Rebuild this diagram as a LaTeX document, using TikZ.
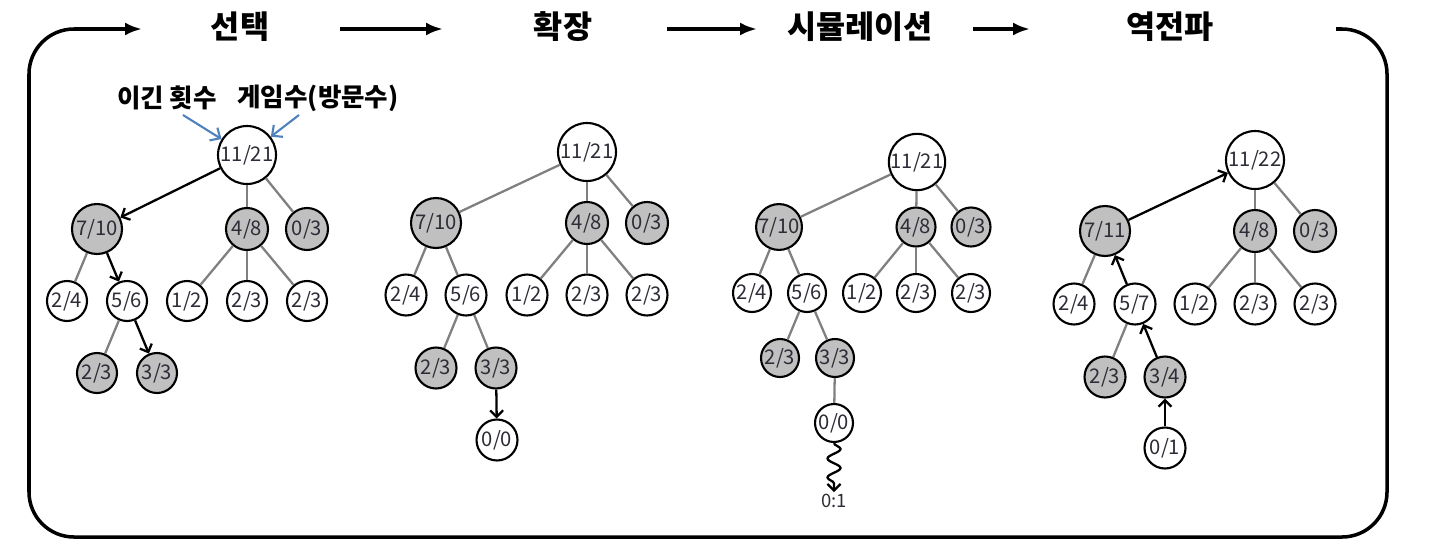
\documentclass[tikz,border=0pt]{standalone}
\usepackage{fontspec}
\setmainfont{Noto Sans CJK KR}
\usepackage{tikz}
\usetikzlibrary{arrows.meta}
\usetikzlibrary{decorations.pathmorphing}
\definecolor{nodegray}{RGB}{192, 192, 192}
\definecolor{edgegray}{RGB}{128, 128, 128}
\definecolor{noteblue}{RGB}{79, 129, 189}
\definecolor{digitink}{RGB}{45, 45, 55}
\tikzset{
  tnode/.style={circle, draw=black, line width=1.2pt, inner sep=0pt, text=digitink, font=\fontsize{11.5}{13}\selectfont},
  wnode/.style={tnode, fill=white, minimum size=#1},
  gnode/.style={tnode, fill=nodegray, minimum size=#1},
  treeline/.style={draw=edgegray, line width=1.3pt},
  walk/.style={draw=black, line width=1.3pt, -{Straight Barb[length=1.3mm, width=2.6mm]}},
  flow/.style={line width=2pt, -{Latex[length=3.4mm, width=2.6mm]}},
  note/.style={draw=noteblue, line width=1.2pt, -{Straight Barb[length=1.6mm, width=3mm]}},
  stagehead/.style={font=\fontsize{18}{21}\selectfont\bfseries, inner sep=0pt},
  notelabel/.style={font=\fontsize{14.5}{17}\selectfont\bfseries, inner sep=0pt},
}

\begin{document}
\begin{tikzpicture}[x=0.02cm, y=-0.02cm]
    \useasboundingbox (0,0) rectangle (1432,548);

    % frame and stage titles
    \draw[flow, rounded corners=0.9cm] (1336,29) -- (1387,29) -- (1387,537) -- (29,537) -- (29,29) -- (142,29);
    \node[stagehead] (selhead) at ( 240,27) {선택};
    \node[stagehead] (exphead) at ( 563,27) {확장};
    \node[stagehead] (simhead) at ( 860,27) {시뮬레이션};
    \node[stagehead] (bphead)  at (1170,27) {역전파};
    \coordinate (flowa1) at (340,29);  \coordinate (flowa2) at (443,29);
    \coordinate (flowb1) at (667,29);  \coordinate (flowb2) at (757,29);
    \coordinate (flowc1) at (973,29);  \coordinate (flowc2) at (1030,29);
    \draw[flow] (flowa1) -- (flowa2);
    \draw[flow] (flowb1) -- (flowb2);
    \draw[flow] (flowc1) -- (flowc2);

    % selection
    \node[wnode=1.16cm] (selroot) at (247,155) {11/21};
    \node[gnode=1.0cm]  (sel710)  at ( 97,229) {7/10};
    \node[gnode=0.84cm] (sel48)   at (247,229) {4/8};
    \node[gnode=0.84cm] (sel03)   at (307,229) {0/3};
    \node[wnode=0.8cm]  (sel24)   at ( 67,301) {2/4};
    \node[wnode=0.8cm]  (sel56)   at (127,301) {5/6};
    \node[wnode=0.8cm]  (sel12)   at (187,301) {1/2};
    \node[wnode=0.8cm]  (sel23a)  at (247,301) {2/3};
    \node[wnode=0.8cm]  (sel23b)  at (307,301) {2/3};
    \node[gnode=0.8cm]  (sel23c)  at ( 97,373) {2/3};
    \node[gnode=0.8cm]  (sel33)   at (157,373) {3/3};
    \draw[walk]     (selroot) -- (sel710);
    \draw[treeline] (selroot) -- (sel48);
    \draw[treeline] (selroot) -- (sel03);
    \draw[treeline] (sel710)  -- (sel24);
    \draw[walk]     (sel710)  -- (sel56);
    \draw[treeline] (sel48)   -- (sel12);
    \draw[treeline] (sel48)   -- (sel23a);
    \draw[treeline] (sel48)   -- (sel23b);
    \draw[treeline] (sel56)   -- (sel23c);
    \draw[walk]     (sel56)   -- (sel33);
    \node[notelabel] (wins)  at (167,98) {이긴 횟수};
    \node[notelabel] (games) at (318,98) {게임수(방문수)};
    \coordinate (winsfoot)  at (183,115);
    \coordinate (gamesfoot) at (299,115);
    \draw[note] (winsfoot)  -- (selroot);
    \draw[note] (gamesfoot) -- (selroot);

    % expansion
    \node[wnode=1.16cm] (exproot) at (587,152) {11/21};
    \node[gnode=1.0cm]  (exp710)  at (436,223) {7/10};
    \node[gnode=0.84cm] (exp48)   at (587,223) {4/8};
    \node[gnode=0.84cm] (exp03)   at (647,223) {0/3};
    \node[wnode=0.82cm] (exp24)   at (406,295) {2/4};
    \node[wnode=0.82cm] (exp56)   at (466,295) {5/6};
    \node[wnode=0.82cm] (exp12)   at (527,295) {1/2};
    \node[wnode=0.82cm] (exp23a)  at (587,295) {2/3};
    \node[wnode=0.82cm] (exp23b)  at (647,295) {2/3};
    \node[gnode=0.82cm] (exp23c)  at (436,368) {2/3};
    \node[gnode=0.82cm] (exp33)   at (496,368) {3/3};
    \node[wnode=0.82cm] (exp00)   at (497,440) {0/0};
    \draw[treeline] (exproot) -- (exp710);
    \draw[treeline] (exproot) -- (exp48);
    \draw[treeline] (exproot) -- (exp03);
    \draw[treeline] (exp710)  -- (exp24);
    \draw[treeline] (exp710)  -- (exp56);
    \draw[treeline] (exp48)   -- (exp12);
    \draw[treeline] (exp48)   -- (exp23a);
    \draw[treeline] (exp48)   -- (exp23b);
    \draw[treeline] (exp56)   -- (exp23c);
    \draw[treeline] (exp56)   -- (exp33);
    \draw[walk]     (exp33)   -- (exp00);

    % simulation
    \begin{scope}[every node/.append style={font=\fontsize{10.5}{12}\selectfont}]
    \node[wnode=1.06cm] (simroot) at (917,162) {11/21};
    \node[gnode=0.9cm]  (sim710)  at (779,227) {7/10};
    \node[gnode=0.78cm] (sim48)   at (916,227) {4/8};
    \node[gnode=0.78cm] (sim03)   at (971,227) {0/3};
    \node[wnode=0.76cm] (sim24)   at (752,293) {2/4};
    \node[wnode=0.76cm] (sim56)   at (807,293) {5/6};
    \node[wnode=0.76cm] (sim12)   at (862,293) {1/2};
    \node[wnode=0.76cm] (sim23a)  at (916,293) {2/3};
    \node[wnode=0.76cm] (sim23b)  at (971,293) {2/3};
    \node[gnode=0.76cm] (sim23c)  at (780,358) {2/3};
    \node[gnode=0.76cm] (sim33)   at (835,358) {3/3};
    \node[wnode=0.76cm] (sim00)   at (834,423) {0/0};
    \node[inner sep=1pt, text=digitink] (simresult) at (834,501) {0:1};
    \end{scope}
    \draw[treeline] (simroot) -- (sim710);
    \draw[treeline] (simroot) -- (sim48);
    \draw[treeline] (simroot) -- (sim03);
    \draw[treeline] (sim710)  -- (sim24);
    \draw[treeline] (sim710)  -- (sim56);
    \draw[treeline] (sim48)   -- (sim12);
    \draw[treeline] (sim48)   -- (sim23a);
    \draw[treeline] (sim48)   -- (sim23b);
    \draw[treeline] (sim56)   -- (sim23c);
    \draw[treeline] (sim56)   -- (sim33);
    \draw[treeline] (sim33)   -- (sim00);
    \draw[walk, decorate, decoration={snake, amplitude=0.13cm, segment length=0.38cm, post length=1.6mm}] (sim00) -- (simresult);

    % backpropagation
    \node[wnode=1.16cm] (bproot) at (1255,160) {11/22};
    \node[gnode=1.0cm]  (bp711)  at (1105,231) {7/11};
    \node[gnode=0.84cm] (bp48)   at (1255,231) {4/8};
    \node[gnode=0.84cm] (bp03)   at (1315,231) {0/3};
    \node[wnode=0.82cm] (bp24)   at (1074,304) {2/4};
    \node[wnode=0.82cm] (bp57)   at (1135,304) {5/7};
    \node[wnode=0.82cm] (bp12)   at (1195,304) {1/2};
    \node[wnode=0.82cm] (bp23a)  at (1255,304) {2/3};
    \node[wnode=0.82cm] (bp23b)  at (1315,304) {2/3};
    \node[gnode=0.82cm] (bp23c)  at (1105,377) {2/3};
    \node[gnode=0.82cm] (bp34)   at (1165,377) {3/4};
    \node[wnode=0.82cm] (bp01)   at (1165,448) {0/1};
    \draw[walk]     (bp711) -- (bproot);
    \draw[treeline] (bproot) -- (bp48);
    \draw[treeline] (bproot) -- (bp03);
    \draw[treeline] (bp711)  -- (bp24);
    \draw[walk]     (bp57)   -- (bp711);
    \draw[treeline] (bp48)   -- (bp12);
    \draw[treeline] (bp48)   -- (bp23a);
    \draw[treeline] (bp48)   -- (bp23b);
    \draw[treeline] (bp57)   -- (bp23c);
    \draw[walk]     (bp34)   -- (bp57);
    \draw[walk]     (bp01)   -- (bp34);
\end{tikzpicture}
\end{document}
